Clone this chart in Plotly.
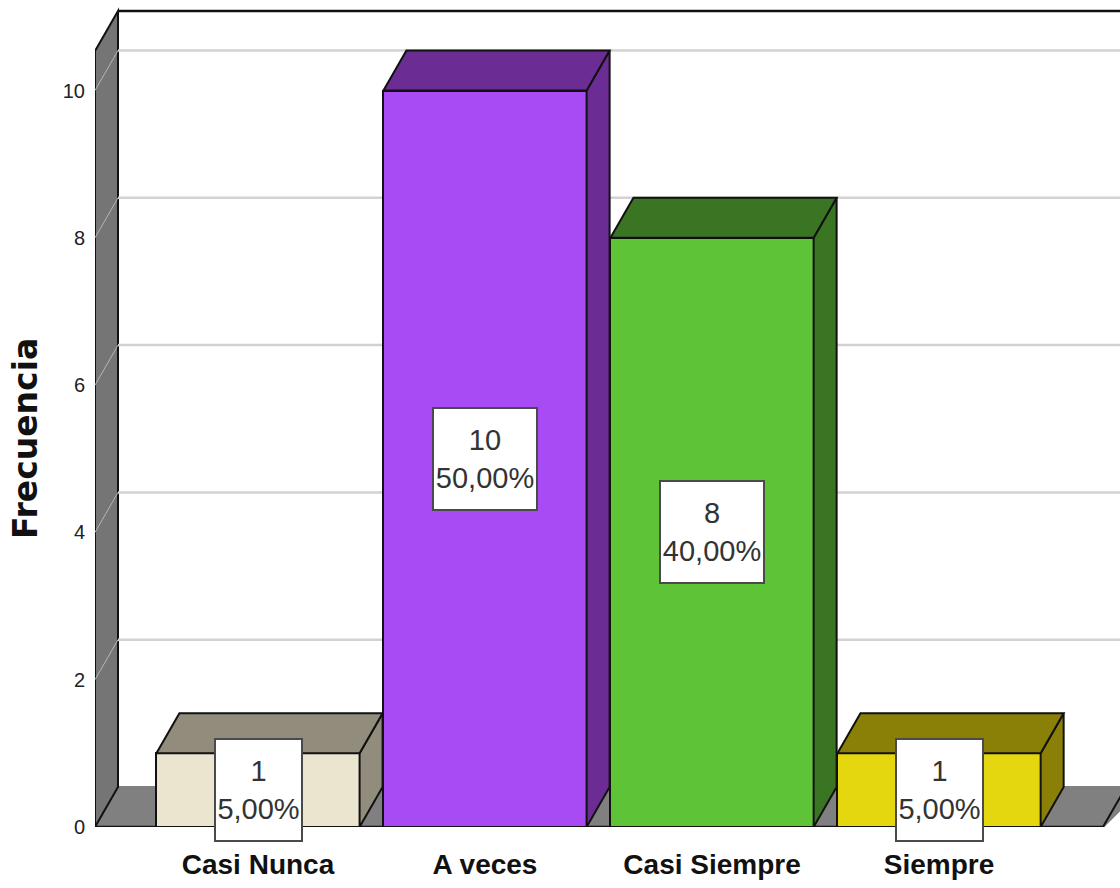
import plotly.graph_objects as go

categories = ["Casi Nunca", "A veces", "Casi Siempre", "Siempre"]
counts = [1, 10, 8, 1]
percents = ["5,00%", "50,00%", "40,00%", "5,00%"]
front_colors = ["#EBE5D0", "#A94BF5", "#5FC338", "#E4D70F"]
side_colors = ["#918C7C", "#6B2C94", "#3A7523", "#8A8008"]
y_ticks = [0, 2, 4, 6, 8, 10]

BAR_W = 0.895
DX = 0.1013          # depth of the 3D box in category units
DY = 0.543           # depth of the 3D box in value units
X_MIN, X_MAX = -0.718, 3.797
Y_MAX = 11.229
WALL_TOP = 10.536
FLOOR_END = 3.722
WALL = "#757575"
FLOOR = "#808080"
GRID = "#D2D2D2"
INK = "#111111"
FONT = "Liberation Sans"

fig = go.Figure()


def poly(xs, ys, fill, line_color=None, width=2):
    return dict(
        type="path", layer="below", xref="x", yref="y",
        path="M " + " L ".join(f"{a},{b}" for a, b in zip(xs, ys)) + " Z",
        fillcolor=fill,
        line=dict(color=line_color or fill, width=width),
    )


def seg(x0, y0, x1, y1, color, width):
    return dict(type="line", layer="below", xref="x", yref="y",
                x0=x0, y0=y0, x1=x1, y1=y1, line=dict(color=color, width=width))


back_x = X_MIN + DX
shapes = [
    poly([X_MIN, back_x, X_MAX + DX, FLOOR_END], [0, DY, DY, 0], FLOOR),
    poly([X_MIN, back_x, back_x, X_MIN], [WALL_TOP, WALL_TOP + DY, DY, 0], WALL, INK),
    seg(back_x, WALL_TOP + DY, X_MAX + DX, WALL_TOP + DY, INK, 2.5),
    seg(X_MIN, 0, FLOOR_END, 0, INK, 2.5),
    seg(FLOOR_END, 0, FLOOR_END + DX, DY, INK, 2),
]
for t in y_ticks[1:]:
    shapes.append(seg(X_MIN, t, back_x, t + DY, "#B5B5B5", 1))
    shapes.append(seg(back_x, t + DY, X_MAX + DX, t + DY, GRID, 2.5))

fig.add_trace(go.Bar(
    x=list(range(len(categories))), y=counts, width=BAR_W,
    marker=dict(color=front_colors, line=dict(color=INK, width=2)),
    showlegend=False, hoverinfo="skip",
))

for i, (v, side) in enumerate(zip(counts, side_colors)):
    l, r = i - BAR_W / 2, i + BAR_W / 2
    fig.add_trace(go.Scatter(
        x=[r, r + DX, r + DX, r, r], y=[0, DY, v + DY, v, 0],
        mode="lines", fill="toself", fillcolor=side,
        line=dict(color=INK, width=2), showlegend=False, hoverinfo="skip",
    ))
    fig.add_trace(go.Scatter(
        x=[l, l + DX, r + DX, r, l], y=[v, v + DY, v + DY, v, v],
        mode="lines", fill="toself", fillcolor=side,
        line=dict(color=INK, width=2), showlegend=False, hoverinfo="skip",
    ))

annotations = []
for i, (v, p) in enumerate(zip(counts, percents)):
    annotations.append(dict(
        x=i, y=v / 2, xref="x", yref="y", text=f"{v}<br>{p}", showarrow=False,
        font=dict(family=FONT, size=29, color="#333333"),
        bgcolor="white", bordercolor="#4A4A4A", borderwidth=2, borderpad=0,
        width=102 if v >= 8 else 85, height=100, align="center", valign="middle",
    ))
annotations.append(dict(
    x=-0.0685, y=5.28 / Y_MAX, xref="paper", yref="paper",
    xanchor="center", yanchor="middle",
    text="<b>Frecuencia</b>", textangle=-90,
    showarrow=False, font=dict(family="DejaVu Sans", size=33, color="#111111"),
))

fig.update_layout(
    width=1120, height=888, autosize=False,
    margin=dict(l=95, r=0, t=0, b=61),
    paper_bgcolor="white", plot_bgcolor="white",
    shapes=shapes, annotations=annotations, showlegend=False, bargap=0,
    xaxis=dict(
        range=[X_MIN, X_MAX], tickmode="array",
        tickvals=list(range(len(categories))),
        ticktext=[f"<b>{c}</b>" for c in categories],
        tickfont=dict(family=FONT, size=28, color="#111111"),
        ticks="outside", ticklen=12, tickcolor="rgba(0,0,0,0)",
        showgrid=False, zeroline=False, showline=False,
    ),
    yaxis=dict(
        range=[0, Y_MAX], tickmode="array", tickvals=y_ticks,
        tickfont=dict(family=FONT, size=20, color="#222222"),
        ticks="outside", ticklen=5, tickcolor="rgba(0,0,0,0)",
        showgrid=False, zeroline=False, showline=False,
    ),
)

fig.write_html("out.html", config={"displayModeBar": False},
               post_script="document.body.style.margin='0';")
